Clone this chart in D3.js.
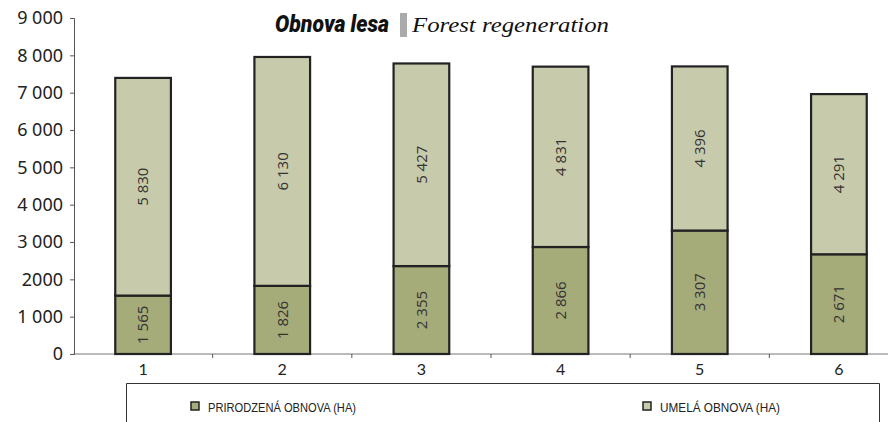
<!DOCTYPE html>
<meta charset="utf-8">
<style>
body { margin: 0; background: #fff; }
</style>
<svg width="888" height="422"></svg>
<script src="https://d3js.org/d3.v7.min.js"></script>
<script>

// data
var categories = ["1", "2", "3", "4", "5", "6"];
var prirodzena = [1565, 1826, 2355, 2866, 3307, 2671];   // prirodzená obnova (ha)
var umela      = [5830, 6130, 5427, 4831, 4396, 4291];   // umelá obnova (ha)
var yTicks      = [0, 1000, 2000, 3000, 4000, 5000, 6000, 7000, 8000, 9000];
var yTickLabels = ["0", "1 000", "2000", "3 000", "4 000", "5 000", "6 000", "7 000", "8 000", "9 000"];
var seriesNames = ["PRIRODZENÁ OBNOVA (HA)", "UMELÁ OBNOVA (HA)"];
var colors = ["#a6ab7a", "#c8cbab"];

var svg = d3.select("svg");

var x = d3.scaleBand().domain(categories).range([73.5, 908.5]).paddingInner(0.6).paddingOuter(0.3);
var y = d3.scaleLinear().domain([0, 9000]).range([354, 18]);

// stacked rows
var rows = categories.map(function(c, i) { return {cat: c, p: prirodzena[i], u: umela[i]}; });
var stack = d3.stack().keys(["p", "u"])(rows);

// x axis
var xAxis = svg.append("g").attr("transform", "translate(0,354)");
xAxis.append("line").attr("x1", 73.5).attr("x2", 888).attr("stroke", "#777").attr("stroke-width", 1);
var step = x.step();
xAxis.selectAll("line.tk").data(categories.slice(1)).enter().append("line")
    .attr("class", "tk")
    .attr("x1", function(d) { return x(d) - (step - x.bandwidth()) / 2; })
    .attr("x2", function(d) { return x(d) - (step - x.bandwidth()) / 2; })
    .attr("y1", 0).attr("y2", 4).attr("stroke", "#555");
xAxis.selectAll("text").data(categories).enter().append("text")
    .attr("x", function(d) { return x(d) + x.bandwidth() / 2; })
    .attr("y", 21)
    .attr("text-anchor", "middle")
    .attr("font-family", "Lato, 'Noto Sans', sans-serif")
    .attr("font-size", 16)
    .attr("fill", "#222")
    .text(function(d) { return d; });

// y axis
var yAxis = svg.append("g").attr("transform", "translate(74,0)")
    .call(d3.axisLeft(y).tickValues(yTicks).tickSize(4).tickFormat(function(d, i) { return yTickLabels[i]; }));
yAxis.select(".domain").attr("stroke", "#555");
yAxis.selectAll(".tick line").attr("stroke", "#555");
yAxis.selectAll(".tick text")
    .attr("x", -11)
    .attr("font-family", "'Noto Sans', Lato, sans-serif")
    .attr("font-size", 18)
    .attr("fill", "#222");

// bars
var layer = svg.append("g").selectAll("g").data(stack).enter().append("g")
    .attr("fill", function(d, i) { return colors[i]; });

layer.selectAll("rect").data(function(d) { return d; }).enter().append("rect")
    .attr("x", function(d) { return x(d.data.cat); })
    .attr("width", x.bandwidth())
    .attr("y", function(d) { return y(d[1]); })
    .attr("height", function(d) { return y(d[0]) - y(d[1]); })
    .attr("stroke", "#222")
    .attr("stroke-width", 2.2);

// value labels, rotated
var fmt = function(v) { return d3.format(",")(v).replace(",", " "); };
layer.selectAll("text").data(function(d) { return d; }).enter().append("text")
    .attr("transform", function(d) {
      var cx = x(d.data.cat) + x.bandwidth() / 2;
      var cy = (y(d[0]) + y(d[1])) / 2;
      return "translate(" + cx + "," + cy + ") rotate(-90)";
    })
    .attr("text-anchor", "middle")
    .attr("dy", "0.35em")
    .attr("font-family", "'Open Sans', 'Noto Sans', sans-serif")
    .attr("font-size", 15)
    .attr("fill", "#333")
    .text(function(d) { return fmt(d[1] - d[0]); });

// title
var title = svg.append("g");
title.append("text")
    .attr("x", 275).attr("y", 32)
    .attr("font-family", "Roboto, 'Liberation Sans', sans-serif")
    .attr("font-weight", 900).attr("font-style", "italic")
    .attr("font-size", 23)
    .attr("textLength", 114).attr("lengthAdjust", "spacingAndGlyphs")
    .attr("fill", "#111")
    .text("Obnova lesa");
title.append("rect")
    .attr("x", 400).attr("y", 13).attr("width", 7).attr("height", 24)
    .attr("fill", "#aaa");
title.append("text")
    .attr("x", 412).attr("y", 32)
    .attr("font-family", "'Liberation Serif', 'DejaVu Serif', serif")
    .attr("font-style", "italic")
    .attr("font-size", 22)
    .attr("textLength", 197).attr("lengthAdjust", "spacingAndGlyphs")
    .attr("fill", "#111")
    .text("Forest regeneration");

// legend
var legend = svg.append("g");
legend.append("path")
    .attr("d", "M126.5,422 V383.5 H879.5 V422")
    .attr("fill", "none").attr("stroke", "#333").attr("stroke-width", 1);
var legendX = [191, 643];
var legendW = [148, 120];
var li = legend.selectAll("g").data(seriesNames).enter().append("g")
    .attr("transform", function(d, i) { return "translate(" + legendX[i] + ",402)"; });
li.append("rect")
    .attr("width", 8).attr("height", 8)
    .attr("fill", function(d, i) { return colors[i]; })
    .attr("stroke", "#222").attr("stroke-width", 1.5);
li.append("text")
    .attr("x", 17).attr("y", 9.5)
    .attr("font-family", "'Liberation Sans Narrow', 'Liberation Sans', sans-serif")
    .attr("font-size", 13)
    .attr("textLength", function(d, i) { return legendW[i]; })
    .attr("lengthAdjust", "spacingAndGlyphs")
    .attr("fill", "#222")
    .text(function(d) { return d; });

</script>
